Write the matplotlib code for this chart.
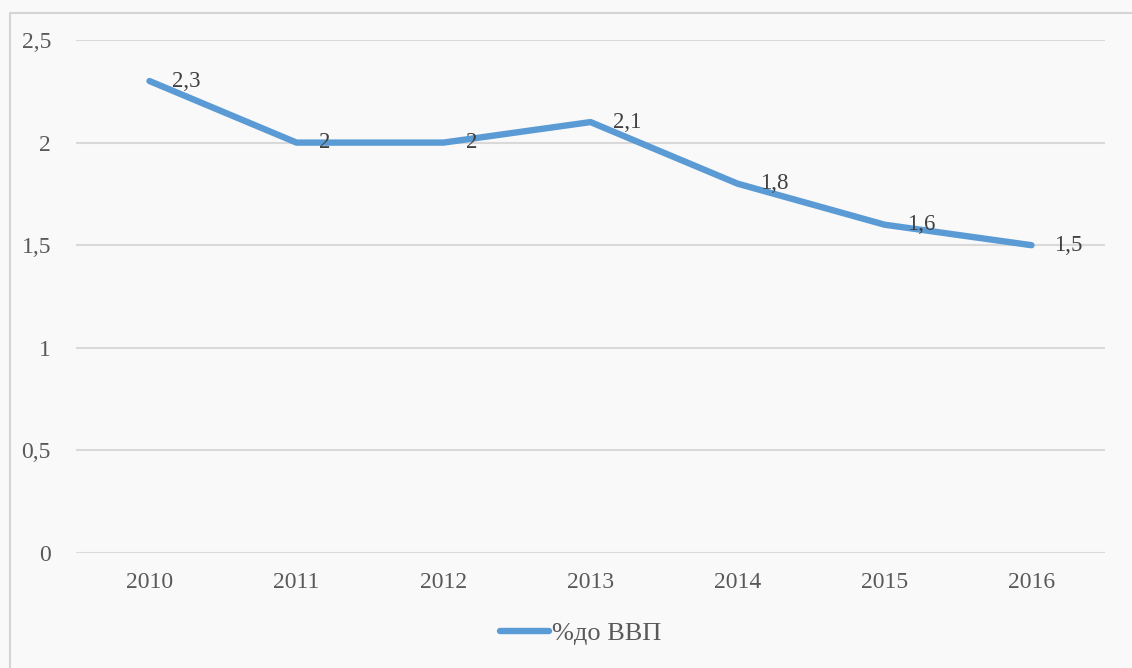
import matplotlib
matplotlib.use("Agg")
import matplotlib.pyplot as plt
from matplotlib.lines import Line2D
from matplotlib.patches import Rectangle

years = ["2010", "2011", "2012", "2013", "2014", "2015", "2016"]
values = [2.3, 2.0, 2.0, 2.1, 1.8, 1.6, 1.5]
value_labels = ["2,3", "2", "2", "2,1", "1,8", "1,6", "1,5"]
y_ticks = [0, 0.5, 1, 1.5, 2, 2.5]
y_tick_labels = ["0", "0,5", "1", "1,5", "2", "2,5"]
series_name = "%до ВВП"

W, H = 1132, 668
plt.rcParams['font.family'] = ['Liberation Serif', 'DejaVu Serif']
fig = plt.figure(figsize=(W / 100, H / 100), dpi=100)
fig.patch.set_facecolor('#f9f9f9')

# outer chart frame
fig.patches.append(Rectangle((10 / W, -0.05), 1.2, 1 - 13 / H + 0.05,
                             transform=fig.transFigure, fill=False,
                             edgecolor='#d4d4d4', linewidth=1.5))

ax = fig.add_axes([76 / W, 1 - 553 / H, (1105 - 76) / W, (553 - 40) / H])
ax.set_facecolor('none')
x = list(range(len(years)))
line_color = '#5B9BD5'
ax.plot(x, values, color=line_color, linewidth=4.6, solid_capstyle='round',
        solid_joinstyle='round', zorder=3)

for xi, v, lab in zip(x, values, value_labels):
    ax.annotate(lab, (xi, v), xytext=(16, 0), textcoords='offset points',
                ha='left', va='center', fontsize=16.5, color='#404040', zorder=4)

ax.set_xlim(-0.5, len(years) - 0.5)
ax.set_ylim(0, 2.5)
ax.set_yticks(y_ticks)
ax.set_yticklabels(y_tick_labels)
ax.set_xticks(x)
ax.set_xticklabels(years)
ax.grid(axis='y', color='#d9d9d9', linewidth=1.5, zorder=0)
for s in ax.spines.values():
    s.set_visible(False)
ax.tick_params(axis='both', length=0, labelsize=17, labelcolor='#595959')
ax.tick_params(axis='y', pad=18)
ax.tick_params(axis='x', pad=14)

handle = Line2D([0], [0], color=line_color, linewidth=4.6, solid_capstyle='round')
leg = fig.legend([handle], [series_name], loc='center', bbox_to_anchor=(581 / W, 1 - 633 / H),
                 frameon=False, fontsize=19, handlelength=1.85, handletextpad=0.12)
for t in leg.get_texts():
    t.set_color('#595959')

fig.savefig('out.png', dpi=100, facecolor=fig.get_facecolor())
